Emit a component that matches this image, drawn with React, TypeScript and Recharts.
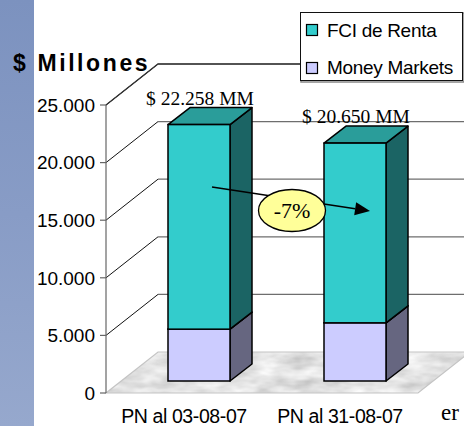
import React from 'react';
import { BarChart, Bar, XAxis, YAxis, CartesianGrid, LabelList, Legend } from 'recharts';

const categories = ['PN al 03-08-07', 'PN al 31-08-07'];
const moneyMarkets = [4500, 5050];
const fciRenta = [17758, 15600];
const totalLabels = ['$ 22.258 MM', '$ 20.650 MM'];
const yTicks = [0, 5000, 10000, 15000, 20000, 25000];
const yMax = 25000;
const changeLabel = '-7%';

const data = categories.map((name, i) => ({
  name,
  mm: moneyMarkets[i],
  fci: fciRenta[i],
  label: totalLabels[i],
}));

// layout
const CHART_W = 464;
const CHART_H = 426;
const AXIS_W = 106;
const PLOT_TOP = 105;
const PLOT_RIGHT_MARGIN = 46;
// 3D geometry
const WDX = 52; // wall depth
const WDY = 41;
const SX = 15; // bar depth position
const SY = 12;
const BDX = 22; // bar depth
const BDY = 17;

const fmt = (v: number) => String(v).replace(/\B(?=(\d{3})+(?!\d))/g, '.');

const makeShape = (front: string, side: string, top: string) => (props: any) => {
  const { x, y, width, height } = props;
  if (width == null || height == null) return <g />;
  const fx = x + SX;
  const fy = y - SY;
  const r = fx + width;
  const b = fy + height;
  return (
    <g>
      <polygon
        points={`${r},${fy} ${r + BDX},${fy - BDY} ${r + BDX},${b - BDY} ${r},${b}`}
        fill={side}
        stroke="#000"
        strokeWidth={1.5}
        strokeLinejoin="round"
      />
      <polygon
        points={`${fx},${fy} ${r},${fy} ${r + BDX},${fy - BDY} ${fx + BDX},${fy - BDY}`}
        fill={top}
        stroke="#000"
        strokeWidth={1.5}
        strokeLinejoin="round"
      />
      <rect x={fx} y={fy} width={width} height={height} fill={front} stroke="#000" strokeWidth={1.5} />
    </g>
  );
};

const mmShape = makeShape('#ccccff', '#666680', '#9999cc');
const fciShape = makeShape('#33cccc', '#1b6464', '#2a9d9a');

const wallLine = (x1: number, y1: number, x2: number, key?: any) => (
  <g key={key}>
    <line x1={x1} y1={y1} x2={x1 + WDX} y2={y1 - WDY} stroke="#111" strokeWidth={1} />
    <line x1={x1 + WDX} y1={y1 - WDY} x2={x2 + WDX} y2={y1 - WDY} stroke="#6e6e6e" strokeWidth={1.2} />
  </g>
);

const gridLine = (p: any) => {
  const { x1, y1, x2, y, height } = p;
  const isFloor = Math.abs(y1 - (y + height)) < 0.5;
  if (!isFloor) return wallLine(x1, y1, x2, p.key);
  const pts = `${x1},${y1} ${x2},${y1} ${x2 + WDX},${y1 - WDY} ${x1 + WDX},${y1 - WDY}`;
  return (
    <g key={p.key}>
      <polygon points={pts} fill="#fff" filter="url(#marble)" />
      <polygon points={pts} fill="none" stroke="#c4c4c4" strokeWidth={1.2} />
    </g>
  );
};

const valueLabel = (p: any) => {
  const { x, y, width, value } = p;
  return (
    <text
      x={x + width / 2 + SX + 1}
      y={y - SY - 20}
      textAnchor="middle"
      fontFamily="'Liberation Serif', 'Times New Roman', serif"
      fontSize={19.5}
      fill="#000"
    >
      {value}
    </text>
  );
};

const legendContent = (props: any) => {
  const items = [...(props.payload || [])].sort((a: any, b: any) =>
    a.value === 'FCI de Renta' ? -1 : b.value === 'FCI de Renta' ? 1 : 0
  );
  return (
    <svg width={164} height={71} style={{ display: 'block' }}>
      <rect x={1} y={1} width={163} height={69} fill="#fff" stroke="#888" strokeWidth={1.5} />
      <rect x={0.5} y={0.5} width={162} height={68} fill="#fff" stroke="#111" strokeWidth={1} />
      {items.map((it: any, i: number) => (
        <g key={it.value}>
          <rect x={6.5} y={12.5 + i * 38} width={11} height={11} fill={it.color} stroke="#000" strokeWidth={1.2} />
          <text
            x={27}
            y={25 + i * 37}
            fontFamily="'Liberation Sans', Arial, sans-serif"
            fontSize={19}
            letterSpacing={-0.3}
            fill="#000"
          >
            {it.value}
          </text>
        </g>
      ))}
    </svg>
  );
};

export default function App() {
  const tip = { x: 370, y: 211 };
  const start = { x: 212, y: 187 };
  const dx = tip.x - start.x;
  const dy = tip.y - start.y;
  const len = Math.sqrt(dx * dx + dy * dy);
  const ux = dx / len;
  const uy = dy / len;
  const bx = tip.x - 15 * ux;
  const by = tip.y - 15 * uy;
  const head = `${tip.x},${tip.y} ${bx - 6.5 * uy},${by + 6.5 * ux} ${bx + 6.5 * uy},${by - 6.5 * ux}`;
  const topPath = `M${AXIS_W},${PLOT_TOP} L${AXIS_W + WDX},${PLOT_TOP - WDY} L300,${PLOT_TOP - WDY}`;

  return (
    <div style={{ position: 'absolute', left: 0, top: 0, width: CHART_W, height: CHART_H, overflow: 'hidden', background: '#fff' }}>
      <div
        style={{
          position: 'absolute',
          left: 0,
          top: 0,
          width: 34,
          height: CHART_H,
          background: 'linear-gradient(180deg, #7c92bf 0%, #889cc6 50%, #96a8cd 100%)',
        }}
      />
      <div style={{ position: 'absolute', left: 0, top: 0 }}>
        <BarChart
          width={CHART_W}
          height={CHART_H}
          data={data}
          margin={{ top: PLOT_TOP, right: PLOT_RIGHT_MARGIN, bottom: 0, left: 0 }}
          barSize={62}
          style={{ fontFamily: "'Liberation Sans', Arial, sans-serif" }}
        >
          <defs>
            <filter id="marble" x="0" y="0" width="1" height="1">
              <feTurbulence type="fractalNoise" baseFrequency="0.035 0.09" numOctaves={3} seed={5} result="n" />
              <feColorMatrix
                in="n"
                type="matrix"
                values="0.6 0 0 0 0.47  0.6 0 0 0 0.47  0.6 0 0 0 0.47  0 0 0 0 1"
                result="c"
              />
              <feComposite in="c" in2="SourceGraphic" operator="in" />
            </filter>
          </defs>
          <CartesianGrid vertical={false} horizontal={gridLine as any} />
          <XAxis
            dataKey="name"
            axisLine={false}
            tickLine={false}
            tickSize={8}
            tickMargin={8}
            height={33}
            interval={0}
            tick={{ fontSize: 19.5, fill: '#000', letterSpacing: -0.4 }}
          />
          <YAxis
            width={AXIS_W}
            domain={[0, yMax]}
            ticks={yTicks}
            interval={0}
            tickFormatter={fmt}
            axisLine={{ stroke: '#666', strokeWidth: 1.2 }}
            tickLine={{ stroke: '#666', strokeWidth: 1.2 }}
            tickSize={6}
            tickMargin={5}
            tick={{ fontSize: 19, fill: '#000' }}
          />
          <Legend
            layout="horizontal"
            verticalAlign="middle"
            align="center"
            content={legendContent}
            wrapperStyle={{ position: 'absolute', left: 300, top: 12, width: 164, height: 71 }}
          />
          <Bar dataKey="mm" name="Money Markets" stackId="a" fill="#ccccff" shape={mmShape} isAnimationActive={false} />
          <Bar dataKey="fci" name="FCI de Renta" stackId="a" fill="#33cccc" shape={fciShape} isAnimationActive={false}>
            <LabelList dataKey="label" content={valueLabel} />
          </Bar>
        </BarChart>
      </div>
      <svg
        width={CHART_W}
        height={CHART_H}
        style={{ position: 'absolute', left: 0, top: 0, pointerEvents: 'none', zIndex: 5 }}
      >
        <path d={topPath} fill="none" stroke="#333" strokeWidth={1.3} />
        <text
          x={13}
          y={71}
          fontFamily="'Liberation Sans', Arial, sans-serif"
          fontWeight="bold"
          fontSize={23}
          letterSpacing={2.6}
          fill="#000"
        >
          $ Millones
        </text>
        <line x1={start.x} y1={start.y} x2={bx} y2={by} stroke="#000" strokeWidth={1.6} />
        <polygon points={head} fill="#000" />
        <ellipse cx={292} cy={210.5} rx={33.5} ry={21} fill="#ffff99" stroke="#000" strokeWidth={1.3} />
        <text
          x={292}
          y={218}
          textAnchor="middle"
          fontFamily="'Liberation Serif', 'Times New Roman', serif"
          fontSize={22}
          fill="#000"
        >
          {changeLabel}
        </text>
        <text x={441} y={420} fontFamily="'Liberation Serif', 'Times New Roman', serif" fontSize={23} fill="#000">
          er
        </text>
      </svg>
    </div>
  );
}
